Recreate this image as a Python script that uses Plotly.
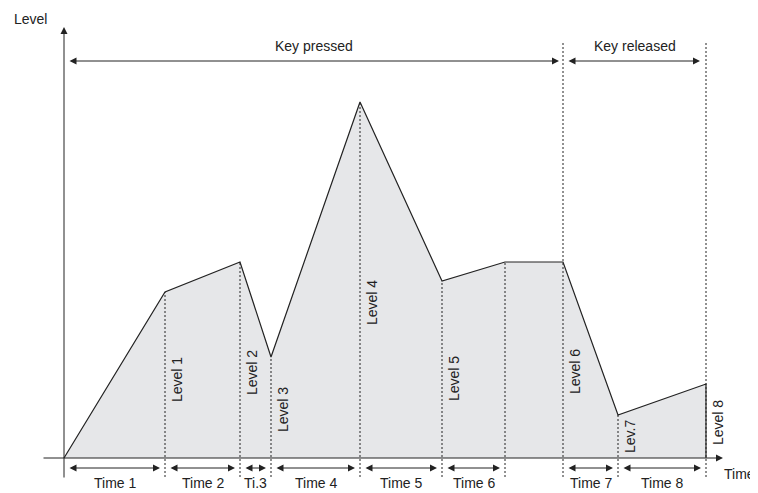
import plotly.graph_objects as go

# envelope breakpoints (time, level)
times = [0, 101, 176, 207, 296, 378, 441, 499, 554, 642]
levels = [0, 166, 196, 101, 356, 177, 196, 196, 43, 74]

level_labels = ["Level 1", "Level 2", "Level 3", "Level 4", "Level 5", "Level 6", "Lev.7", "Level 8"]
level_label_idx = [1, 2, 3, 4, 5, 7, 8, 9]
level_label_y = [78, 85, 48, 155, 79, 86, 21, 35]

time_labels = ["Time 1", "Time 2", "Ti.3", "Time 4", "Time 5", "Time 6", "Time 7", "Time 8"]
time_segments = [(0, 1), (1, 2), (2, 3), (3, 4), (4, 5), (5, 6), (7, 8), (8, 9)]

key_off = 7  # index where the key is released

FONT = "Liberation Sans, Arial, sans-serif"
INK = "#222222"

fig = go.Figure()

fig.add_scatter(
    x=times + [times[-1]], y=levels + [0],
    mode="lines", fill="tozeroy", fillcolor="#e6e7e9",
    line=dict(color=INK, width=1.2), hoverinfo="skip", showlegend=False,
)

shapes = []
annotations = []


def arrow(x0, y0, x1, y1, both=True):
    annotations.append(dict(
        x=x1, y=y1, ax=x0, ay=y0, xref="x", yref="y", axref="x", ayref="y",
        text="", showarrow=True, arrowhead=2, arrowsize=1.4, arrowwidth=1,
        arrowcolor=INK, arrowside="end+start" if both else "end",
        standoff=0, startstandoff=0,
    ))


def text(x, y, s, angle=0):
    annotations.append(dict(
        x=x, y=y, xref="x", yref="y", text=s, showarrow=False, textangle=angle,
        font=dict(family=FONT, size=14, color=INK),
    ))


# axes
arrow(0, -21, 0, 431, both=False)
arrow(-22, 0, 659, 0, both=False)
text(-34, 439, "Level")
text(675, -16, "Time")

# dotted verticals
top = 415
for i in range(1, len(times)):
    y_top = top if i in (key_off, len(times) - 1) else levels[i]
    shapes.append(dict(type="line", x0=times[i], x1=times[i], y0=-19, y1=y_top,
                       line=dict(color=INK, width=1, dash="2px,2px")))

# key pressed / released
arrow(times[0] + 4, 397, times[key_off] - 4, 397)
arrow(times[key_off] + 4, 397, times[-1] - 6, 397)
text((times[0] + times[key_off]) / 2, 412, "Key pressed")
text((times[key_off] + times[-1]) / 2, 412, "Key released")

# time segments
for lab, (a, b) in zip(time_labels, time_segments):
    arrow(times[a] + 4, -10, times[b] - 5, -10)
    text((times[a] + times[b]) / 2, -25, lab)

# level labels
for lab, i, y in zip(level_labels, level_label_idx, level_label_y):
    text(times[i] + 12, y, lab, angle=-90)

# page body has an 8px margin, so the figure is a little smaller than the window
fig.update_layout(
    width=750, height=485,
    margin=dict(l=0, r=0, t=0, b=0),
    paper_bgcolor="white", plot_bgcolor="white",
    xaxis=dict(range=[-56, 694], visible=False, fixedrange=True),
    yaxis=dict(range=[-35, 450], visible=False, fixedrange=True),
    shapes=shapes, annotations=annotations,
    font=dict(family=FONT, size=14, color=INK),
)

fig.write_html("out.html")
